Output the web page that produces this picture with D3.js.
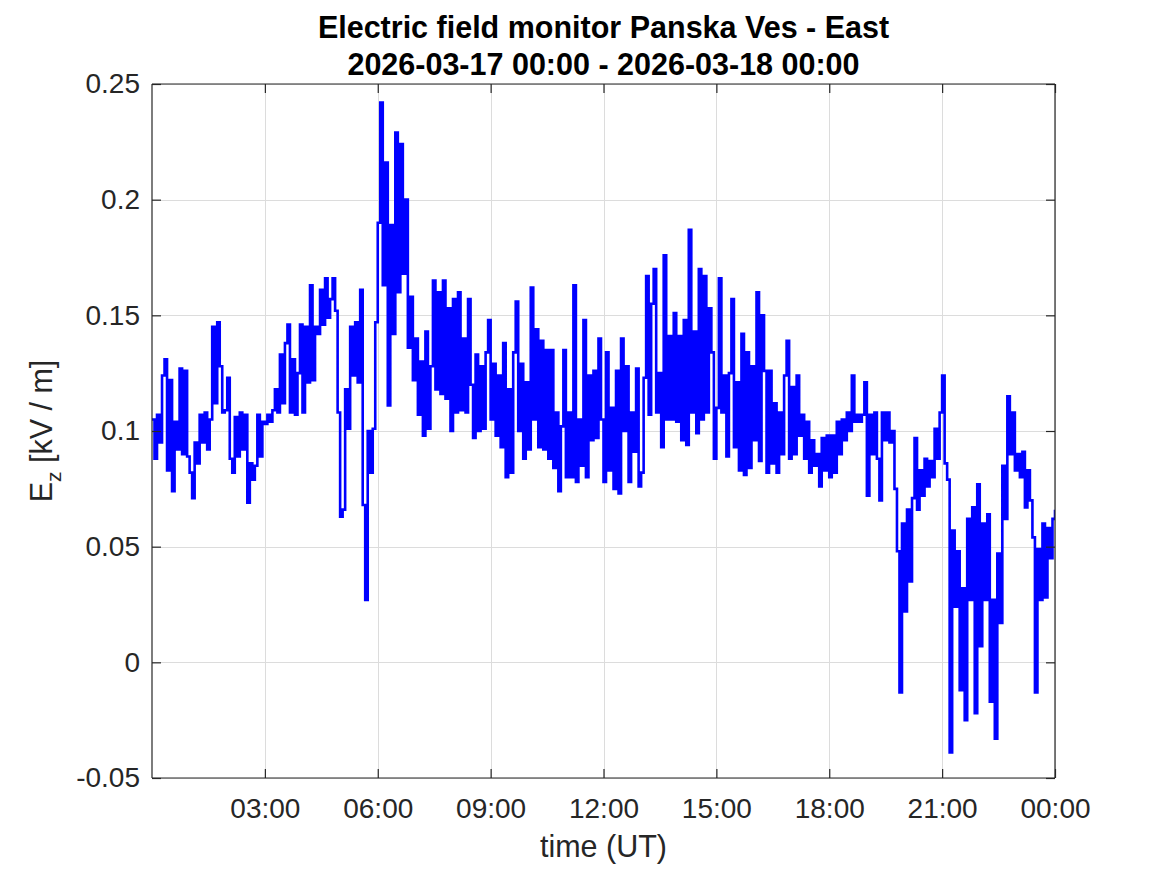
<!DOCTYPE html>
<html>
<head>
<meta charset="utf-8">
<script src="https://cdn.jsdelivr.net/npm/d3@7"></script>
<style>
  html, body { margin: 0; padding: 0; background: #ffffff; }
  svg { display: block; font-family: "Liberation Sans", Arial, Helvetica, sans-serif; }
</style>
</head>
<body>
<svg id="chart" width="1167" height="875"></svg>
<script>
// ---- Data (E_z in kV/m, one sample every 4 minutes) ----
const startTime = "2026-03-17T00:00:00Z";
const endTime = "2026-03-18T00:00:00Z";
const sampleStepMinutes = 4;

const ez00to06 = [
  0.105, 0.088, 0.107, 0.095, 0.124, 0.131, 0.083, 0.122, 0.074, 0.104, 0.092, 0.127, 0.090, 0.126, 0.089,
  0.082, 0.071, 0.095, 0.086, 0.107, 0.095, 0.108, 0.092, 0.105, 0.145, 0.112, 0.147, 0.128, 0.108, 0.109,
  0.123, 0.088, 0.082, 0.106, 0.089, 0.108, 0.092, 0.107, 0.069, 0.086, 0.079, 0.085, 0.107, 0.089, 0.104,
  0.103, 0.107, 0.104, 0.109, 0.118, 0.108, 0.133, 0.112, 0.138, 0.146, 0.108, 0.131, 0.107, 0.125, 0.146,
  0.108, 0.145, 0.121, 0.163, 0.122, 0.145, 0.142, 0.161, 0.146, 0.166, 0.149, 0.157, 0.166, 0.152, 0.108,
  0.063, 0.066, 0.118, 0.101, 0.145, 0.124, 0.147, 0.121, 0.161, 0.068, 0.027, 0.100, 0.082, 0.101, 0.147
];
const ez06to12 = [
  0.190, 0.242, 0.163, 0.216, 0.111, 0.189, 0.142, 0.229, 0.160, 0.224, 0.168, 0.200, 0.136, 0.158, 0.122,
  0.140, 0.107, 0.130, 0.098, 0.143, 0.101, 0.128, 0.165, 0.118, 0.160, 0.116, 0.165, 0.114, 0.153, 0.100,
  0.157, 0.108, 0.160, 0.109, 0.140, 0.108, 0.157, 0.120, 0.097, 0.133, 0.100, 0.128, 0.101, 0.134, 0.148,
  0.105, 0.129, 0.098, 0.124, 0.093, 0.138, 0.080, 0.118, 0.082, 0.134, 0.156, 0.100, 0.129, 0.088, 0.121,
  0.092, 0.162, 0.105, 0.144, 0.093, 0.139, 0.092, 0.135, 0.088, 0.135, 0.084, 0.108, 0.074, 0.102, 0.135,
  0.080, 0.108, 0.080, 0.163, 0.078, 0.105, 0.085, 0.148, 0.080, 0.124, 0.096, 0.126, 0.097, 0.140, 0.105
];
const ez12to18 = [
  0.078, 0.134, 0.083, 0.110, 0.075, 0.126, 0.073, 0.140, 0.100, 0.128, 0.078, 0.108, 0.091, 0.127, 0.076,
  0.082, 0.123, 0.167, 0.107, 0.155, 0.170, 0.108, 0.125, 0.093, 0.176, 0.105, 0.141, 0.105, 0.151, 0.104,
  0.141, 0.096, 0.148, 0.094, 0.187, 0.108, 0.143, 0.099, 0.170, 0.105, 0.167, 0.108, 0.153, 0.134, 0.088,
  0.110, 0.166, 0.108, 0.124, 0.089, 0.125, 0.157, 0.093, 0.121, 0.083, 0.142, 0.081, 0.134, 0.084, 0.128,
  0.096, 0.160, 0.087, 0.150, 0.126, 0.082, 0.126, 0.086, 0.112, 0.082, 0.108, 0.090, 0.124, 0.139, 0.088,
  0.119, 0.090, 0.124, 0.098, 0.107, 0.088, 0.104, 0.082, 0.096, 0.085, 0.090, 0.076, 0.097, 0.083, 0.098
];
const ez18to24 = [
  0.080, 0.098, 0.082, 0.104, 0.090, 0.105, 0.096, 0.108, 0.100, 0.124, 0.104, 0.107, 0.104, 0.107, 0.121,
  0.072, 0.107, 0.090, 0.108, 0.088, 0.070, 0.108, 0.096, 0.108, 0.095, 0.100, 0.075, 0.048, -0.013, 0.060,
  0.022, 0.066, 0.035, 0.071, 0.097, 0.066, 0.083, 0.072, 0.088, 0.076, 0.087, 0.080, 0.101, 0.088, 0.108,
  0.124, 0.086, 0.079, -0.039, 0.057, 0.024, 0.048, -0.012, 0.032, -0.025, 0.062, 0.027, 0.067, -0.022, 0.077,
  0.007, 0.060, 0.027, 0.064, -0.017, 0.027, -0.033, 0.047, 0.017, 0.085, 0.062, 0.115, 0.090, 0.108, 0.083,
  0.090, 0.080, 0.091, 0.067, 0.083, 0.070, 0.054, -0.013, 0.049, 0.027, 0.060, 0.028, 0.058, 0.045, 0.062,
  0.066
];

const yTicks = [-0.05, 0, 0.05, 0.1, 0.15, 0.2, 0.25];
const yTickLabels = ["-0.05", "0", "0.05", "0.1", "0.15", "0.2", "0.25"];
const xTickHours = [3, 6, 9, 12, 15, 18, 21, 24];
const xTickLabels = ["03:00", "06:00", "09:00", "12:00", "15:00", "18:00", "21:00", "00:00"];

const titleLines = ["Electric field monitor Panska Ves - East", "2026-03-17 00:00 - 2026-03-18 00:00"];
const xLabel = "time (UT)";

// ---- Build series ----
const ezValues = [].concat(ez00to06, ez06to12, ez12to18, ez18to24);
const t0 = new Date(startTime);
const series = ezValues.map((v, i) => ({ t: new Date(t0.getTime() + i * sampleStepMinutes * 60000), v }));

// ---- Layout ----
const svg = d3.select("#chart");
const plot = { left: 152, right: 1055, top: 84, bottom: 778 };
const axisColor = "#262626";
const tickFont = 28;
const labelFont = 30.5;

const x = d3.scaleUtc().domain([t0, new Date(endTime)]).range([plot.left, plot.right]);
const y = d3.scaleLinear().domain([-0.05, 0.25]).range([plot.bottom, plot.top]);
const xTickDates = xTickHours.map(h => new Date(t0.getTime() + h * 3600000));

// grid
const grid = svg.append("g").attr("class", "grid");
grid.selectAll("line.gx").data(xTickDates).join("line")
  .attr("x1", d => Math.round(x(d)) + 0.5).attr("x2", d => Math.round(x(d)) + 0.5)
  .attr("y1", plot.top).attr("y2", plot.bottom)
  .attr("stroke", "#dcdcdc").attr("stroke-width", 1);
grid.selectAll("line.gy").data(yTicks).join("line")
  .attr("y1", d => Math.round(y(d)) + 0.5).attr("y2", d => Math.round(y(d)) + 0.5)
  .attr("x1", plot.left).attr("x2", plot.right)
  .attr("stroke", "#dcdcdc").attr("stroke-width", 1);

// clip
svg.append("defs").append("clipPath").attr("id", "clip")
  .append("rect").attr("x", plot.left).attr("y", plot.top)
  .attr("width", plot.right - plot.left).attr("height", plot.bottom - plot.top);

// data line (dense signal drawn as steps)
const line = d3.line().curve(d3.curveStepAfter).x(d => x(d.t)).y(d => y(d.v));
svg.append("path").datum(series)
  .attr("clip-path", "url(#clip)")
  .attr("d", line)
  .attr("fill", "none")
  .attr("stroke", "#0000ff")
  .attr("stroke-width", 2.6)
  .attr("stroke-linejoin", "miter");

// axes (box with inward ticks)
const tickLen = 9;
const xAxisBottom = d3.axisBottom(x).tickValues(xTickDates).tickSize(-tickLen).tickPadding(20)
  .tickFormat((d, i) => xTickLabels[i]);
const xAxisTop = d3.axisTop(x).tickValues(xTickDates).tickSize(-tickLen).tickFormat("");
const yAxisLeft = d3.axisLeft(y).tickValues(yTicks).tickSize(-tickLen).tickPadding(12)
  .tickFormat((d, i) => yTickLabels[i]);
const yAxisRight = d3.axisRight(y).tickValues(yTicks).tickSize(-tickLen).tickFormat("");

function styleAxis(g) {
  g.select(".domain").attr("stroke", axisColor).attr("stroke-width", 1.2);
  g.selectAll(".tick line").attr("stroke", axisColor).attr("stroke-width", 1.2);
  g.selectAll(".tick text").attr("fill", axisColor)
    .style("font-size", tickFont + "px")
    .style("font-family", '"Liberation Sans", Arial, sans-serif');
}

svg.append("g").attr("transform", `translate(0,${plot.bottom})`).call(xAxisBottom).call(styleAxis)
  .call(g => g.select(".domain").attr("d", `M${plot.left},0H${plot.right}`));
svg.append("g").attr("transform", `translate(0,${plot.top})`).call(xAxisTop).call(styleAxis)
  .call(g => g.select(".domain").attr("d", `M${plot.left},0H${plot.right}`));
svg.append("g").attr("transform", `translate(${plot.left},0)`).call(yAxisLeft).call(styleAxis)
  .call(g => g.select(".domain").attr("d", `M0,${plot.top}V${plot.bottom}`));
svg.append("g").attr("transform", `translate(${plot.right},0)`).call(yAxisRight).call(styleAxis)
  .call(g => g.select(".domain").attr("d", `M0,${plot.top}V${plot.bottom}`));

// title
const title = svg.append("text")
  .attr("text-anchor", "middle")
  .attr("fill", "#000000")
  .style("font-size", labelFont + "px")
  .style("font-weight", "bold");
title.selectAll("tspan").data(titleLines).join("tspan")
  .attr("x", (plot.left + plot.right) / 2)
  .attr("y", (d, i) => 38 + i * 37)
  .text(d => d);

// x label
svg.append("text")
  .attr("x", (plot.left + plot.right) / 2)
  .attr("y", 857)
  .attr("text-anchor", "middle")
  .attr("fill", axisColor)
  .style("font-size", labelFont + "px")
  .text(xLabel);

// y label with subscript
const yl = svg.append("text")
  .attr("transform", `translate(52,${(plot.top + plot.bottom) / 2}) rotate(-90)`)
  .attr("text-anchor", "middle")
  .attr("fill", axisColor)
  .style("font-size", labelFont + "px");
yl.append("tspan").text("E");
yl.append("tspan").attr("dy", 9).style("font-size", "21px").text("z");
yl.append("tspan").attr("dy", -9).text(" [kV / m]");
</script>
</body>
</html>
